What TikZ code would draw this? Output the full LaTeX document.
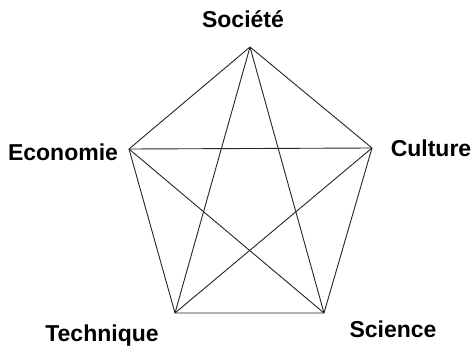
\documentclass[tikz,border=0pt]{standalone}
\usepackage{fontspec}
\setmainfont{Liberation Sans}
\begin{document}
\begin{tikzpicture}[x=1pt,y=-1pt,
  lbl/.style={font=\fontsize{23}{27}\selectfont\bfseries, inner sep=0pt, anchor=base},
  edge/.style={draw=black!85, line width=0.9pt, line join=round}]
\useasboundingbox[fill=white] (0,0) rectangle (474,351);
\coordinate (S) at (250,47);
\coordinate (E) at (129,149);
\coordinate (C) at (372,148);
\coordinate (T) at (175,313);
\coordinate (Sc) at (324,313);
\draw[edge] (S) -- (C) -- (Sc) -- (T) -- (E) -- cycle;
\draw[edge] (S) -- (T);
\draw[edge] (S) -- (Sc);
\draw[edge] (E) -- (C);
\draw[edge] (E) -- (Sc);
\draw[edge] (C) -- (T);
\node[lbl] (lS) at (243,27) {Société};
\node[lbl] (lE) at (63,160) {Economie};
\node[lbl] (lC) at (431,156) {Culture};
\node[lbl] (lT) at (102,341) {Technique};
\node[lbl] (lSc) at (393,337) {Science};
\end{tikzpicture}
\end{document}
